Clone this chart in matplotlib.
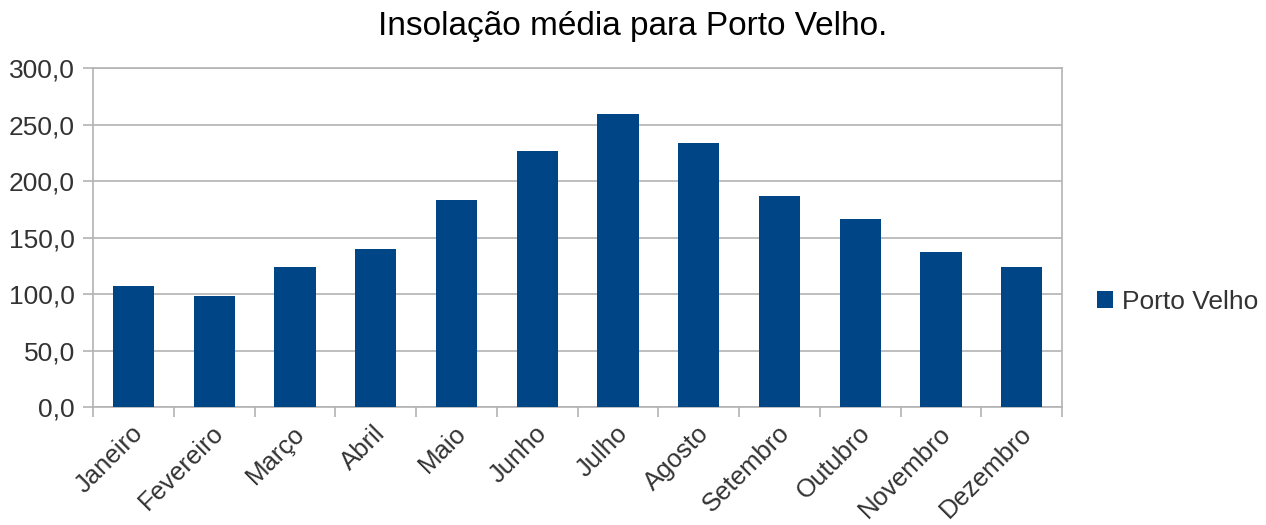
import numpy as np
import matplotlib
matplotlib.use("Agg")
import matplotlib.pyplot as plt
import matplotlib.transforms as mtransforms
from matplotlib.ticker import FuncFormatter

plt.rcParams['font.family'] = ['Liberation Sans', 'DejaVu Sans']

# --- Data ---
meses = ['Janeiro', 'Fevereiro', 'Março', 'Abril', 'Maio', 'Junho',
         'Julho', 'Agosto', 'Setembro', 'Outubro', 'Novembro', 'Dezembro']
insolacao = [107.4, 98.5, 124.2, 140.1, 183.5, 226.8,
             259.6, 233.9, 187.0, 166.7, 137.5, 124.2]
serie = 'Porto Velho'
y_ticks = [0, 50, 100, 150, 200, 250, 300]

grid_col = '#b3b3b3'
bar_col = '#004586'
text_col = '#333333'

fig = plt.figure(figsize=(12.66, 5.25), dpi=100)
ax = fig.add_axes([0.0735, 0.2242, 0.7655, 0.6458])

x = np.arange(len(meses))
ax.bar(x, insolacao, width=0.51, color=bar_col, label=serie, zorder=3)

ax.set_xlim(-0.5, len(meses) - 0.5)
ax.set_ylim(0, 300)
ax.set_yticks(y_ticks)
ax.yaxis.set_major_formatter(FuncFormatter(lambda v, p: f'{v:.1f}'.replace('.', ',')))
ax.grid(axis='y', color=grid_col, linewidth=1.2, zorder=0)

# category labels at centres, tick marks at the boundaries
ax.set_xticks(x)
ax.set_xticklabels(meses, rotation=45, ha='right', va='center',
                   rotation_mode='anchor', fontsize=18.5, color=text_col)
ax.tick_params(axis='x', length=0, pad=16)
shift = mtransforms.ScaledTranslation(6 / 100, 0, fig.dpi_scale_trans)
for lbl in ax.get_xticklabels():
    lbl.set_transform(lbl.get_transform() + shift)
ax.set_xticks(np.arange(-0.5, len(meses)), minor=True)
ax.tick_params(axis='x', which='minor', length=7.5, color=grid_col, width=1.2)
ax.tick_params(axis='y', labelsize=19, colors=grid_col, labelcolor=text_col,
               length=7, width=1.2, pad=6)

for s in ax.spines.values():
    s.set_color(grid_col)
    s.set_linewidth(1.2)

fig.suptitle('Insolação média para Porto Velho.', fontsize=24, x=0.5, y=0.98,
             color='black')

fig.legend(loc='center left', bbox_to_anchor=(0.8665, 0.425), frameon=False,
           fontsize=19, handlelength=0.6, handleheight=0.6, handletextpad=0.34,
           borderpad=0, borderaxespad=0, labelcolor=text_col)

fig.savefig('out.png', dpi=100)
